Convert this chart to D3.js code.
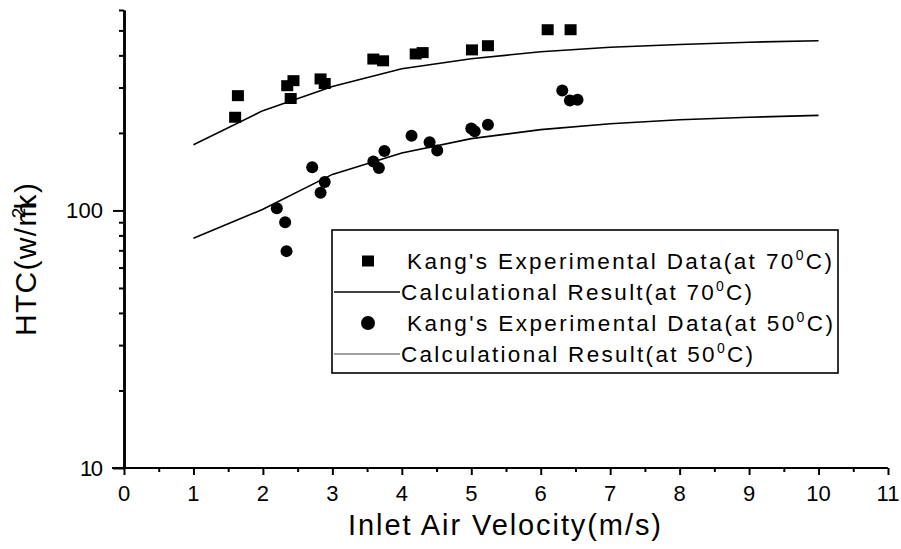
<!DOCTYPE html>
<html><head><meta charset="utf-8">
<script src="https://cdn.jsdelivr.net/npm/d3@7"></script>
<style>
html,body{margin:0;padding:0;background:#fff;}
svg{display:block;}
text{font-family:"Liberation Sans",Arial,Helvetica,sans-serif;fill:#000;}
</style></head>
<body>
<svg id="chart" width="901" height="549"></svg>
<script>
// ---- data ----
const exp70X = [1.60, 1.64, 2.35, 2.40, 2.44, 2.83, 2.89, 3.59, 3.73, 4.20, 4.30, 5.01, 5.24, 6.10, 6.43];
const exp70Y = [230, 279, 305, 272, 319, 324, 311, 387, 381, 405, 410, 420, 436, 503, 503];
const exp50X = [2.20, 2.32, 2.34, 2.71, 2.83, 2.89, 3.59, 3.67, 3.75, 4.14, 4.40, 4.51, 5.00, 5.05, 5.24, 6.31, 6.42, 6.53];
const exp50Y = [102, 90, 69.5, 147, 117, 129, 155, 146, 170, 195, 184, 171, 208, 203, 215, 292, 267, 269];
const calcX = [1, 2, 3, 4, 5, 6, 7, 8, 9, 10];
const calc70Y = [180, 244, 303, 355, 388, 413, 430, 441, 450, 456];
const calc50Y = [78, 101, 138, 167, 190, 206, 217, 225, 230, 234];
const xTicks = [0,1,2,3,4,5,6,7,8,9,10,11];
const xMinor = [0.5,1.5,2.5,3.5,4.5,5.5,6.5,7.5,8.5,9.5,10.5];
const yTicks = [10, 100];
const yMinor = [20,30,40,50,60,70,80,90,200,300,400,500,600];
const legendLabels = [
  ["Kang's Experimental Data(at 7", "0", "0", "C)"],
  ["Calculational Result(at 7", "0", "0", "C)"],
  ["Kang's Experimental Data(at 5", "0", "0", "C)"],
  ["Calculational Result(at 5", "0", "0", "C)"]
];

// ---- layout ----
const svg = d3.select("#chart");
const x = d3.scaleLinear().domain([0, 11]).range([124, 888]);
const y = d3.scaleLog().domain([10, 600]).range([468, 10]);

// axes
const gx = svg.append("g").attr("transform", "translate(0,468)");
gx.call(d3.axisBottom(x).tickValues(xTicks).tickSize(7).tickSizeOuter(0).tickFormat(""));
gx.append("g").call(d3.axisBottom(x).tickValues(xMinor).tickSize(4).tickSizeOuter(0).tickFormat(""));
gx.selectAll("path.domain").attr("stroke-width", 2).attr("d", "M112,0H888");
gx.selectAll(".tick line").attr("stroke-width", 2);

const gy = svg.append("g").attr("transform", "translate(124,0)");
gy.call(d3.axisLeft(y).tickValues(yTicks).tickSize(11).tickSizeOuter(0).tickFormat(""));
gy.append("g").call(d3.axisLeft(y).tickValues(yMinor).tickSize(5).tickSizeOuter(0).tickFormat(""));
gy.selectAll("path.domain").attr("stroke-width", 2.5);
gy.selectAll(".tick line").attr("stroke-width", 2);

// tick labels
svg.append("g").selectAll("text").data(xTicks).join("text")
  .attr("x", d => x(d)).attr("y", 501)
  .attr("text-anchor", "middle").style("font-size", "22px")
  .text(d => d);
svg.append("g").selectAll("text").data(yTicks).join("text")
  .attr("x", 103).attr("y", d => y(d) + 8)
  .attr("text-anchor", "end").style("font-size", "22px")
  .attr("textLength", d => d === 100 ? 37 : 23).attr("lengthAdjust", "spacing")
  .text(d => d);

// axis titles
svg.append("text").attr("x", 348).attr("y", 535)
  .style("font-size", "29px").attr("textLength", 313).attr("lengthAdjust", "spacing")
  .text("Inlet Air Velocity(m/s)");
const yt = svg.append("text").attr("transform", "translate(36,336) rotate(-90)")
  .style("font-size", "30px").style("letter-spacing", "1.3px");
yt.append("tspan").text("HTC(w/m");
yt.append("tspan").attr("dy", -11).attr("dx", -18).style("font-size", "19px").text("2");
yt.append("tspan").attr("dy", 11).attr("dx", -3).text("k)");

// lines
const line = d3.line().x(d => x(d[0])).y(d => y(d[1]));
svg.append("path").datum(calcX.map((v, i) => [v, calc70Y[i]]))
  .attr("d", line).attr("fill", "none").attr("stroke", "#000").attr("stroke-width", 1.6);
svg.append("path").datum(calcX.map((v, i) => [v, calc50Y[i]]))
  .attr("d", line).attr("fill", "none").attr("stroke", "#000").attr("stroke-width", 1.6);

// points
svg.append("g").selectAll("rect").data(exp70X.map((v, i) => [v, exp70Y[i]])).join("rect")
  .attr("x", d => x(d[0]) - 6).attr("y", d => y(d[1]) - 5.5)
  .attr("width", 12).attr("height", 11).attr("fill", "#000");
svg.append("g").selectAll("circle").data(exp50X.map((v, i) => [v, exp50Y[i]])).join("circle")
  .attr("cx", d => x(d[0])).attr("cy", d => y(d[1])).attr("r", 6).attr("fill", "#000");

// legend
const lg = svg.append("g");
lg.append("rect").attr("x", 332).attr("y", 230).attr("width", 506).attr("height", 143)
  .attr("fill", "#fff").attr("stroke", "#000").attr("stroke-width", 1.6);
const rowY = [261, 292, 323, 354];
lg.append("rect").attr("x", 362).attr("y", rowY[0] - 5.5).attr("width", 12).attr("height", 11).attr("fill", "#000");
lg.append("line").attr("x1", 334).attr("x2", 400).attr("y1", rowY[1]).attr("y2", rowY[1]).attr("stroke", "#000").attr("stroke-width", 1.5);
lg.append("circle").attr("cx", 368).attr("cy", rowY[2]).attr("r", 7).attr("fill", "#000");
lg.append("line").attr("x1", 334).attr("x2", 400).attr("y1", rowY[3]).attr("y2", rowY[3]).attr("stroke", "#444").attr("stroke-width", 1.2);
const lx = [407, 401, 407, 401];
const lEnd = [832, 752, 833, 753];
legendLabels.forEach((parts, i) => {
  const t = lg.append("text").attr("x", lx[i]).attr("y", rowY[i] + 8)
    .style("font-size", "22.5px").attr("textLength", lEnd[i] - lx[i]).attr("lengthAdjust", "spacing");
  t.append("tspan").text(parts[0] + parts[1]);
  t.append("tspan").attr("dy", -9).style("font-size", "14px").text(parts[2]);
  t.append("tspan").attr("dy", 9).text(parts[3]);
});
</script>
</body></html>
